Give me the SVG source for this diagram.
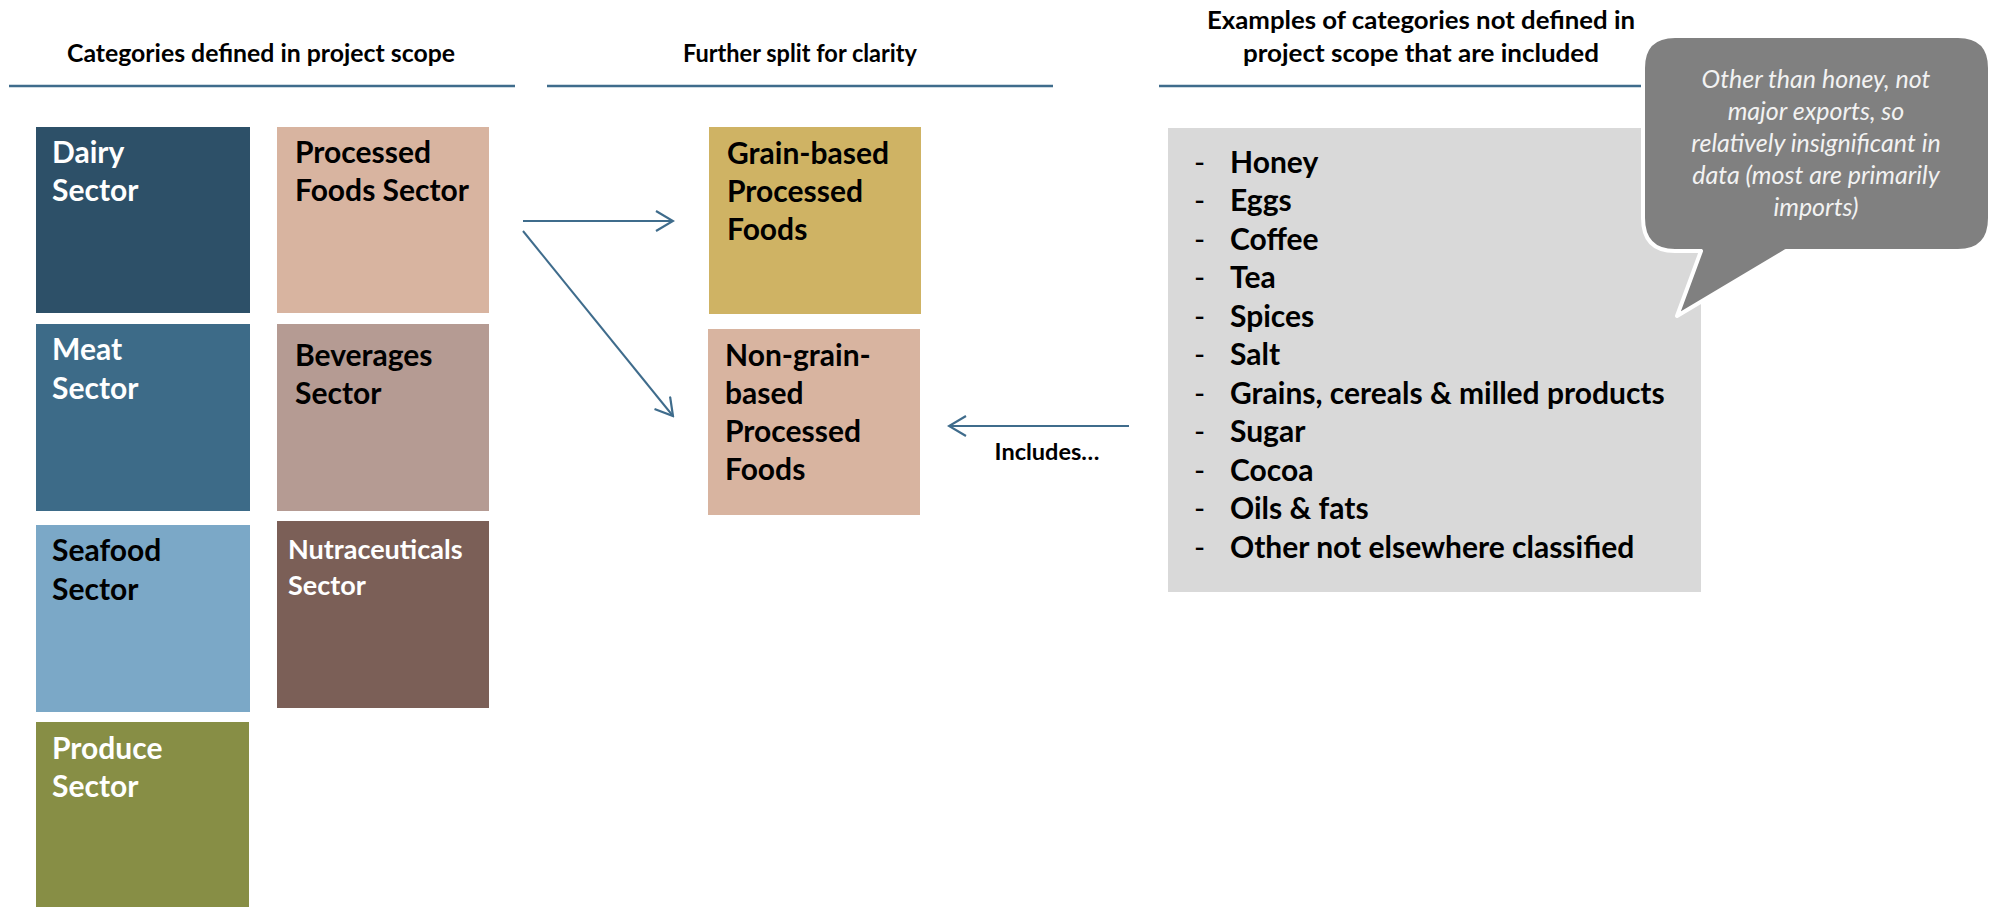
<svg xmlns="http://www.w3.org/2000/svg" width="1993" height="907" viewBox="0 0 1993 907">
<defs>
<style>
text{font-family:Lato,"Liberation Sans",sans-serif;font-weight:bold}
.hdr{font-size:24.5px;fill:#000;text-anchor:middle}
.bt{font-size:30px}
.w{fill:#fff}
.k{fill:#000}
.li{font-size:30px;fill:#000}
.dash{font-weight:normal}
.co{font-size:25px;font-weight:normal;font-style:italic;fill:#F2F2F2;text-anchor:middle}
.rule{stroke:#3F6C8C;stroke-width:2.5}
.conn{stroke:#3F6C8C;stroke-width:2;fill:none}
</style>
<marker id="arr" markerWidth="20" markerHeight="22" refX="18" refY="11" orient="auto" markerUnits="userSpaceOnUse">
<path d="M1,1 L18,11 L1,21" fill="none" stroke="#3F6C8C" stroke-width="2.2"/>
</marker>
</defs>
<rect width="1993" height="907" fill="#fff"/>

<g id="headers">
<text class="hdr" x="261" y="62" textLength="388" lengthAdjust="spacingAndGlyphs">Categories defined in project scope</text>
<text class="hdr" x="800" y="62" textLength="234" lengthAdjust="spacingAndGlyphs">Further split for clarity</text>
<text class="hdr" x="1421" y="29" textLength="428" lengthAdjust="spacingAndGlyphs">Examples of categories not defined in</text>
<text class="hdr" x="1421" y="62" textLength="356" lengthAdjust="spacingAndGlyphs">project scope that are included</text>
<line class="rule" x1="9" y1="86" x2="515" y2="86"/>
<line class="rule" x1="547" y1="86" x2="1053" y2="86"/>
<line class="rule" x1="1159" y1="86" x2="1660" y2="86"/>
</g>

<g id="dairy">
<rect x="36" y="127" width="214" height="186" fill="#2D5068"/>
<text class="bt w" x="52" y="163">Dairy</text>
<text class="bt w" x="52" y="201">Sector</text>
</g>
<g id="processed">
<rect x="277" y="127" width="212" height="186" fill="#D8B4A0"/>
<text class="bt k" x="295" y="163">Processed</text>
<text class="bt k" x="295" y="201">Foods Sector</text>
</g>
<g id="meat">
<rect x="36" y="324" width="214" height="187" fill="#3D6B88"/>
<text class="bt w" x="52" y="360">Meat</text>
<text class="bt w" x="52" y="399">Sector</text>
</g>
<g id="beverages">
<rect x="277" y="324" width="212" height="187" fill="#B59B93"/>
<text class="bt k" x="295" y="366">Beverages</text>
<text class="bt k" x="295" y="404">Sector</text>
</g>
<g id="seafood">
<rect x="36" y="525" width="214" height="187" fill="#7BA8C7"/>
<text class="bt k" x="52" y="561">Seafood</text>
<text class="bt k" x="52" y="600">Sector</text>
</g>
<g id="nutraceuticals">
<rect x="277" y="521" width="212" height="187" fill="#7B5F57"/>
<text class="w" x="288" y="559" font-size="27">Nutraceuticals</text>
<text class="w" x="288" y="595" font-size="27">Sector</text>
</g>
<g id="produce">
<rect x="36" y="722" width="213" height="185" fill="#878E45"/>
<text class="bt w" x="52" y="759">Produce</text>
<text class="bt w" x="52" y="797">Sector</text>
</g>

<g id="grain">
<rect x="709" y="127" width="212" height="187" fill="#CFB364"/>
<text class="bt k" x="727" y="164">Grain-based</text>
<text class="bt k" x="727" y="202">Processed</text>
<text class="bt k" x="727" y="240">Foods</text>
</g>
<g id="nongrain">
<rect x="708" y="329" width="212" height="186" fill="#D8B4A0"/>
<text class="bt k" x="725" y="366">Non-grain-</text>
<text class="bt k" x="725" y="404">based</text>
<text class="bt k" x="725" y="442">Processed</text>
<text class="bt k" x="725" y="480">Foods</text>
</g>

<g id="examples">
<rect x="1168" y="128" width="533" height="464" fill="#D9D9D9"/>
<g class="li">
<text class="dash" x="1194" y="173">-</text><text x="1230" y="173">Honey</text>
<text class="dash" x="1194" y="211">-</text><text x="1230" y="211">Eggs</text>
<text class="dash" x="1194" y="250">-</text><text x="1230" y="250">Coffee</text>
<text class="dash" x="1194" y="288">-</text><text x="1230" y="288">Tea</text>
<text class="dash" x="1194" y="327">-</text><text x="1230" y="327">Spices</text>
<text class="dash" x="1194" y="365">-</text><text x="1230" y="365">Salt</text>
<text class="dash" x="1194" y="404">-</text><text x="1230" y="404">Grains, cereals &amp; milled products</text>
<text class="dash" x="1194" y="442">-</text><text x="1230" y="442">Sugar</text>
<text class="dash" x="1194" y="481">-</text><text x="1230" y="481">Cocoa</text>
<text class="dash" x="1194" y="519">-</text><text x="1230" y="519">Oils &amp; fats</text>
<text class="dash" x="1194" y="558">-</text><text x="1230" y="558">Other not elsewhere classified</text>
</g>
</g>

<g id="connectors">
<line class="conn" x1="523" y1="221" x2="673" y2="221" marker-end="url(#arr)"/>
<line class="conn" x1="523" y1="231" x2="673" y2="416" marker-end="url(#arr)"/>
<line class="conn" x1="1129" y1="426" x2="949" y2="426" marker-end="url(#arr)"/>
<text x="1047" y="460" font-size="23.5" fill="#000" text-anchor="middle">Includes…</text>
</g>

<g id="callout">
<path d="M1675,36 H1958 Q1990,36 1990,68 V218 Q1990,251 1958,251 H1786 L1677,316 L1701,251 H1675 Q1643,251 1643,218 V68 Q1643,36 1675,36 Z" fill="#808080" stroke="#fff" stroke-width="4" stroke-linejoin="round"/>
<text class="co" x="1816" y="88">Other than honey, not</text>
<text class="co" x="1816" y="120">major exports, so</text>
<text class="co" x="1816" y="152">relatively insignificant in</text>
<text class="co" x="1816" y="184">data (most are primarily</text>
<text class="co" x="1816" y="216">imports)</text>
</g>
</svg>
